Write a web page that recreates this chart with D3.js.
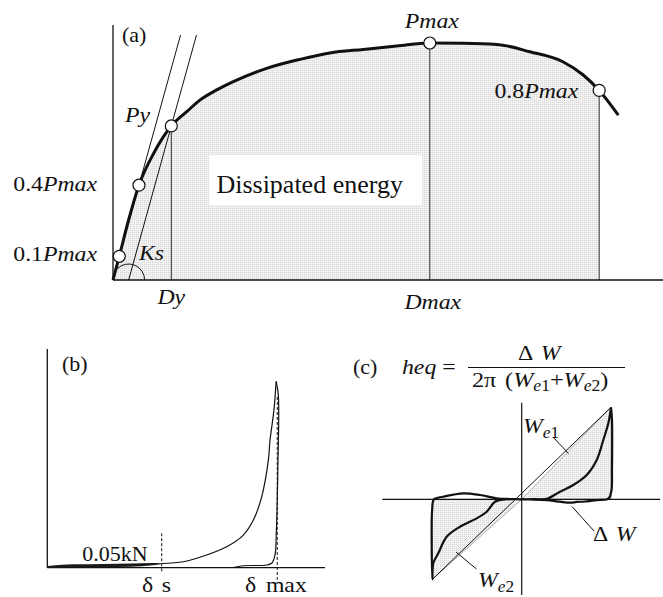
<!DOCTYPE html>
<html>
<head>
<meta charset="utf-8">
<script src="https://cdn.jsdelivr.net/npm/d3@7"></script>
<style>
  body { margin: 0; background: #fff; }
  svg { display: block; }
  text { font-family: "Liberation Serif", "Times New Roman", serif; fill: #111; font-size: 22px; }
  .it { font-style: italic; }
</style>
</head>
<body>
<svg id="fig" width="663" height="597"></svg>
<script>
// ---------- (a) skeleton curve: displacement vs load ratio P/Pmax ----------
const envDisp = [0, 0.57, 1.4, 2.36, 3.7, 5.3, 6.7, 7.9, 9.43, 10.94, 13.97, 17.0, 19.7, 22.75, 25.8, 28.8, 31.85, 34.9, 37.9, 40.9, 42.75, 44.2, 45.94];
const envLoad = [0, 0.1, 0.25, 0.4, 0.535, 0.65, 0.71, 0.759, 0.802, 0.837, 0.893, 0.931, 0.958, 0.973, 0.987, 1.0, 0.999, 0.994, 0.963, 0.921, 0.865, 0.8, 0.696];
// characteristic points on the curve
const markDisp = [0.57, 2.36, 5.3, 28.8, 44.2];
const markLoad = [0.1, 0.4, 0.65, 1.0, 0.8];

// ---------- (b) single cycle: displacement vs force (kN) ----------
const bandDisp  = [0, 4, 10, 20, 30, 38, 41.2];
const bandUpper = [0.02, 0.032, 0.04, 0.045, 0.05, 0.055, 0.052];
const bandLower = [0, 0, 0.002, 0.006, 0.012, 0.03, 0.045];
const loadDisp  = [41.2, 49, 57.4, 64.6, 70.6, 74.2, 77.2, 79.6, 80.2, 81.6, 82.4];
const loadForce = [0.05, 0.071, 0.151, 0.249, 0.388, 0.566, 0.842, 1.278, 1.515, 1.871, 2.215];
const unloadDisp  = [82.4, 83.2, 83.0, 82.5, 82.0, 80.9, 79.0, 70.5, 66.9];
const unloadForce = [2.215, 2.049, 1.159, 0.447, 0.151, 0.056, 0.032, 0.023, 0.002];
const deltaS = 41.2, deltaMax = 82.8, slipForce = 0.05;

// ---------- (c) hysteresis loop, normalised by peak ----------
const loopX = [1.0, 1.011, 1.011, 1.006, 0.978, 0.952, 0.840, 0.709, 0.616, 0.541, 0.429, 0.280, 0.093, 0,
  -0.131, -0.280, -0.467, -0.654, -0.878, -0.982, -1.003, -1.008, -1.0,
  -0.990, -0.934, -0.840, -0.691, -0.504, -0.392, -0.299, -0.187, 0,
  0.149, 0.280, 0.429, 0.578, 0.728, 0.840, 0.914, 0.970, 1.0];
const loopY = [1.0, 0.862, 0.318, 0.101, 0.014, -0.002, -0.008, -0.024, -0.029, -0.037, -0.026, -0.008, -0.002, 0,
  0.003, 0.011, 0.047, 0.065, 0.028, 0, -0.116, -0.497, -0.87,
  -0.696, -0.587, -0.407, -0.298, -0.207, -0.135, -0.026, -0.002, 0,
  0.001, 0.005, 0.083, 0.155, 0.264, 0.427, 0.645, 0.826, 1.0];
const peakX = 1.0, peakY = 1.0, troughX = -1.0, troughY = -0.87;

const svg = d3.select("#fig");
const ink = "#111";

// light dotted screen used for shaded areas
const pat = svg.append("defs").append("pattern")
  .attr("id", "screen").attr("width", 2).attr("height", 2)
  .attr("patternUnits", "userSpaceOnUse");
pat.append("rect").attr("width", 2).attr("height", 2).attr("fill", "#f2f2f2");
pat.append("rect").attr("width", 1).attr("height", 1).attr("fill", "#d6d6d6");

// text with optional horizontal stretch (sx) about its anchor point
function text(g, x, y, parts, opts = {}) {
  const sx = opts.sx || 1;
  const t = g.append("text").attr("x", 0).attr("y", 0)
    .attr("transform", `translate(${x},${y}) scale(${sx},1)`);
  if (opts.anchor) t.attr("text-anchor", opts.anchor);
  if (opts.size) t.style("font-size", opts.size + "px");
  parts.forEach(p => {
    const s = t.append("tspan").text(p.t);
    if (p.it) s.attr("class", "it");
    if (p.dy) s.attr("dy", p.dy);
    if (p.dx) s.attr("dx", p.dx);
    if (p.size) s.style("font-size", p.size + "px");
  });
  return t;
}

// ================= panel (a) =================
const xA = d3.scaleLinear().domain([0, 50]).range([113, 663]);
const yA = d3.scaleLinear().domain([0, 1]).range([280, 43]);
const gA = svg.append("g");
const env = envDisp.map((d, i) => [d, envLoad[i]]);
const cut = markDisp[4];

gA.append("path")
  .datum(env.filter(p => p[0] <= cut))
  .attr("d", d3.area().x(p => xA(p[0])).y0(yA(0)).y1(p => yA(p[1])).curve(d3.curveMonotoneX))
  .attr("fill", "url(#screen)");

// white panel behind the energy label
gA.append("rect")
  .attr("x", xA(8.75)).attr("y", yA(0.527))
  .attr("width", xA(28.1) - xA(8.75)).attr("height", yA(0.316) - yA(0.527))
  .attr("fill", "#fff");
text(gA, xA(9.4), yA(0.367), [{ t: "Dissipated energy" }], { size: 26 });

// drop lines at Dy, Dmax and the 0.8Pmax displacement
[2, 3, 4].forEach(i => {
  gA.append("line")
    .attr("x1", xA(markDisp[i])).attr("x2", xA(markDisp[i]))
    .attr("y1", yA(markLoad[i])).attr("y2", yA(0))
    .attr("stroke", "#333").attr("stroke-width", 1);
});

// secant through 0.1Pmax and 0.4Pmax, and the parallel line through Py
const slope = (markDisp[1] - markDisp[0]) / (markLoad[1] - markLoad[0]);
const topLoad = 1.034;
gA.append("line")
  .attr("x1", xA(markDisp[0])).attr("y1", yA(markLoad[0]))
  .attr("x2", xA(markDisp[0] + (topLoad - markLoad[0]) * slope)).attr("y2", yA(topLoad))
  .attr("stroke", ink).attr("stroke-width", 1);
const ksBase = markDisp[2] - markLoad[2] * slope;
gA.append("line")
  .attr("x1", xA(ksBase)).attr("y1", yA(0))
  .attr("x2", xA(ksBase + topLoad * slope)).attr("y2", yA(topLoad))
  .attr("stroke", ink).attr("stroke-width", 1);

// stiffness angle arc
const arcP = d3.path();
const cx = xA(ksBase), cy = yA(0), r = 16;
arcP.moveTo(cx + r, cy);
arcP.arc(cx, cy, r, 0, -135 * Math.PI / 180, true);
gA.append("path").attr("d", arcP.toString()).attr("fill", "none").attr("stroke", ink).attr("stroke-width", 1);

// skeleton curve
gA.append("path").datum(env)
  .attr("d", d3.line().x(p => xA(p[0])).y(p => yA(p[1])).curve(d3.curveMonotoneX))
  .attr("fill", "none").attr("stroke", ink).attr("stroke-width", 3);

// axes
gA.append("line").attr("x1", xA(0)).attr("x2", xA(0)).attr("y1", yA(0)).attr("y2", yA(1.076))
  .attr("stroke", ink).attr("stroke-width", 1.3);
gA.append("line").attr("x1", xA(0)).attr("x2", xA(50)).attr("y1", yA(0)).attr("y2", yA(0))
  .attr("stroke", ink).attr("stroke-width", 1.3);

// point markers
markDisp.forEach((d, i) => {
  gA.append("circle").attr("cx", xA(d)).attr("cy", yA(markLoad[i])).attr("r", 6)
    .attr("fill", "#fff").attr("stroke", ink).attr("stroke-width", 1.2);
});

const SX = 1.08;
text(gA, 122, 42, [{ t: "(a)" }]);
text(gA, 125, 122, [{ t: "Py", it: true }], { sx: SX });
text(gA, 97, yA(markLoad[1]) + 6, [{ t: "0.4" }, { t: "Pmax", it: true }], { anchor: "end", sx: SX });
text(gA, 97, yA(markLoad[0]) + 5, [{ t: "0.1" }, { t: "Pmax", it: true }], { anchor: "end", sx: SX });
text(gA, 139, 260, [{ t: "Ks", it: true }], { sx: SX });
text(gA, xA(markDisp[2]), 304, [{ t: "Dy", it: true }], { anchor: "middle", sx: SX });
text(gA, xA(markDisp[3]) + 3, 309, [{ t: "Dmax", it: true }], { anchor: "middle", sx: SX });
text(gA, xA(markDisp[3]) + 2, 28, [{ t: "Pmax", it: true }], { anchor: "middle", sx: SX });
text(gA, xA(markDisp[4]) - 21, yA(markLoad[4]) + 8, [{ t: "0.8" }, { t: "Pmax", it: true }], { anchor: "end", sx: SX });

// ================= panel (b) =================
const xB = d3.scaleLinear().domain([0, 100]).range([47.3, 325]);
const yB = d3.scaleLinear().domain([0, 2.6]).range([567.7, 349]);
const gB = svg.append("g");

gB.append("line").attr("x1", xB(0)).attr("x2", xB(0)).attr("y1", yB(0)).attr("y2", yB(2.6))
  .attr("stroke", ink).attr("stroke-width", 1.3);
gB.append("line").attr("x1", xB(0)).attr("x2", xB(100)).attr("y1", yB(0)).attr("y2", yB(0))
  .attr("stroke", ink).attr("stroke-width", 1.3);

// slip band of small cycles up to delta s
gB.append("path")
  .datum(bandDisp.map((d, i) => [d, bandLower[i], bandUpper[i]]))
  .attr("d", d3.area().x(p => xB(p[0])).y0(p => yB(p[1])).y1(p => yB(p[2])).curve(d3.curveMonotoneX))
  .attr("fill", "#1a1a1a");

const lineB = d3.line().x(p => xB(p[0])).y(p => yB(p[1])).curve(d3.curveCatmullRom.alpha(0.5));
gB.append("path").datum(loadDisp.map((d, i) => [d, loadForce[i]]))
  .attr("d", lineB).attr("fill", "none").attr("stroke", ink).attr("stroke-width", 1.2);
gB.append("path").datum(unloadDisp.map((d, i) => [d, unloadForce[i]]))
  .attr("d", lineB).attr("fill", "none").attr("stroke", ink).attr("stroke-width", 1.2);

// dashed markers at delta s and delta max
gB.append("line").attr("x1", xB(deltaS)).attr("x2", xB(deltaS)).attr("y1", yB(0.41)).attr("y2", yB(-0.065))
  .attr("stroke", ink).attr("stroke-width", 1).attr("stroke-dasharray", "3,2");
gB.append("line").attr("x1", xB(deltaMax)).attr("x2", xB(deltaMax)).attr("y1", yB(2.03)).attr("y2", yB(-0.18))
  .attr("stroke", ink).attr("stroke-width", 1).attr("stroke-dasharray", "3,2");

text(gB, 62, 371, [{ t: "(b)" }]);
text(gB, xB(deltaS) - 14, yB(slipForce) - 2, [{ t: "0.05kN" }], { anchor: "end" });
text(gB, 142, 592, [{ t: "δ" }, { t: "s", dx: 8 }], { sx: SX });
text(gB, 245, 592, [{ t: "δ" }, { t: "max", dx: 9 }], { sx: SX });

// ================= panel (c) =================
const xC = d3.scaleLinear().domain([-1, 1]).range([432.4, 611]);
const yC = d3.scaleLinear().domain([-1, 1]).range([591.3, 407.3]);
const gC = svg.append("g");

// elastic-energy triangles
gC.append("path")
  .attr("d", `M${xC(0)},${yC(0)}L${xC(peakX)},${yC(peakY)}L${xC(peakX)},${yC(0)}Z`)
  .attr("fill", "url(#screen)").attr("stroke", "#999").attr("stroke-width", 0.8);
gC.append("path")
  .attr("d", `M${xC(0)},${yC(0)}L${xC(troughX)},${yC(troughY)}L${xC(troughX)},${yC(0)}Z`)
  .attr("fill", "url(#screen)").attr("stroke", "#999").attr("stroke-width", 0.8);

// axes
gC.append("line").attr("x1", xC(-1.56)).attr("x2", xC(1.55)).attr("y1", yC(0)).attr("y2", yC(0))
  .attr("stroke", ink).attr("stroke-width", 1.2);
gC.append("line").attr("x1", xC(0)).attr("x2", xC(0)).attr("y1", yC(1.05)).attr("y2", yC(-1.04))
  .attr("stroke", ink).attr("stroke-width", 1.2);

// secant through both peaks
gC.append("line").attr("x1", xC(troughX)).attr("y1", yC(troughY)).attr("x2", xC(peakX)).attr("y2", yC(peakY))
  .attr("stroke", ink).attr("stroke-width", 1);

// hysteresis loop
gC.append("path").datum(loopX.map((d, i) => [d, loopY[i]]))
  .attr("d", d3.line().x(p => xC(p[0])).y(p => yC(p[1])).curve(d3.curveCatmullRom.alpha(0.5)))
  .attr("fill", "none").attr("stroke", ink).attr("stroke-width", 2.2).attr("stroke-linejoin", "round");

// leaders
const leaders = [[553, 437, 568.5, 453.5], [572, 506.5, 594, 531], [456, 552, 476.5, 569]];
leaders.forEach(l => gC.append("line").attr("x1", l[0]).attr("y1", l[1]).attr("x2", l[2]).attr("y2", l[3])
  .attr("stroke", ink).attr("stroke-width", 1));

text(gC, 523, 433, [{ t: "W", it: true }, { t: "e", it: true, size: 16, dy: 5 }, { t: "1", size: 16 }], { sx: SX });
text(gC, 593, 541, [{ t: "Δ" }, { t: "W", it: true, dx: 7 }], { sx: SX });
text(gC, 478, 587, [{ t: "W", it: true }, { t: "e", it: true, size: 16, dy: 5 }, { t: "2", size: 16 }], { sx: SX });

// damping formula
text(gC, 353, 374, [{ t: "(c)" }]);
text(gC, 402, 374, [{ t: "heq", it: true }, { t: " =" }], { sx: SX });
gC.append("line").attr("x1", 468).attr("x2", 625).attr("y1", 367.5).attr("y2", 367.5)
  .attr("stroke", ink).attr("stroke-width", 1.2);
text(gC, 518, 360, [{ t: "Δ" }, { t: "W", it: true, dx: 7 }], { sx: SX });
text(gC, 472, 387, [
  { t: "2π" }, { t: "(", dx: 8 }, { t: "W", it: true },
  { t: "e", it: true, size: 16, dy: 4 }, { t: "1", size: 16 },
  { t: "+", dy: -4 }, { t: "W", it: true },
  { t: "e", it: true, size: 16, dy: 4 }, { t: "2", size: 16 },
  { t: ")", dy: -4 }
], { sx: 1.1 });
</script>
</body>
</html>
